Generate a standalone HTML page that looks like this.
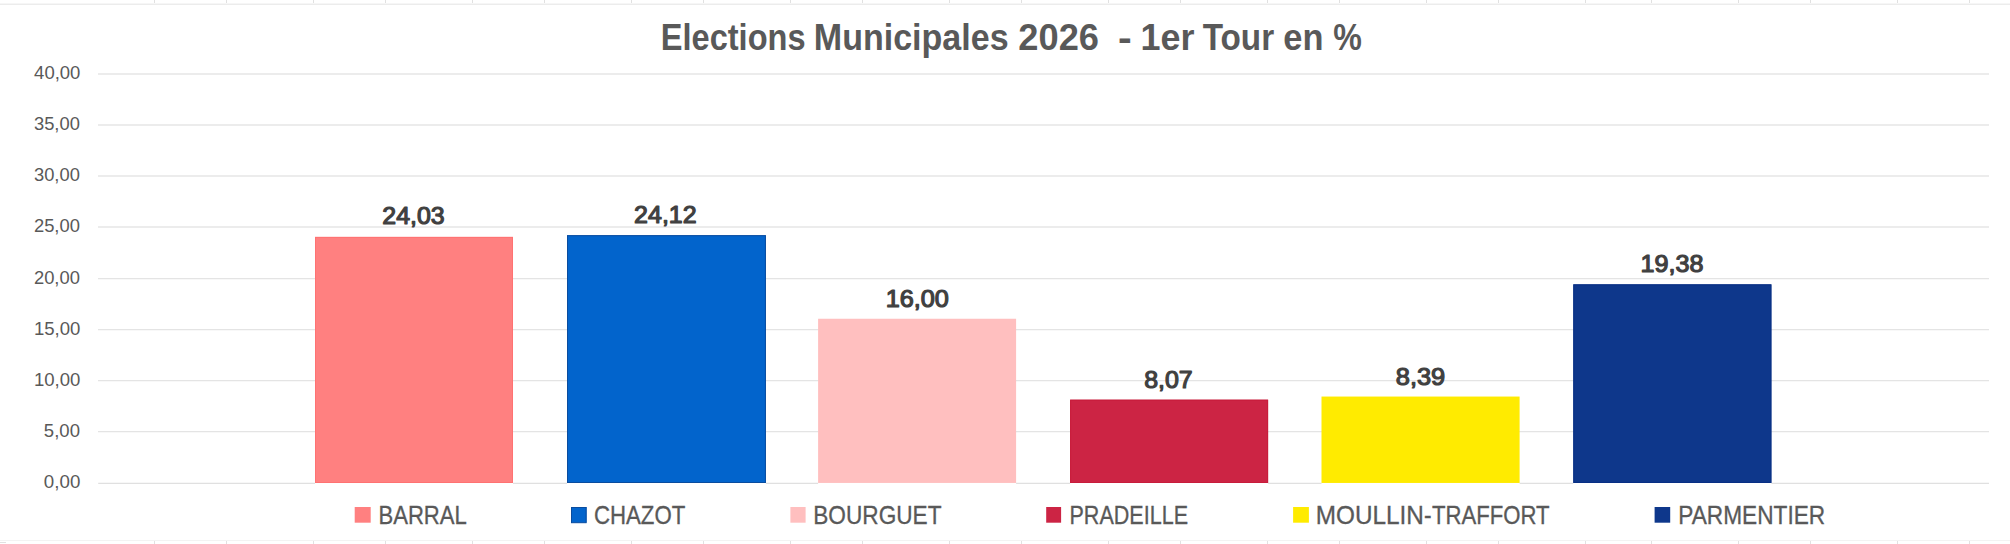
<!DOCTYPE html>
<html lang="fr"><head><meta charset="utf-8"><title>Elections Municipales 2026 - 1er Tour en %</title>
<style>
html,body{margin:0;padding:0;background:#fff;}
body{width:2010px;height:544px;overflow:hidden;position:relative;font-family:"Liberation Sans",sans-serif;}
svg{position:absolute;left:0;top:0;display:block;}
text{font-family:"Liberation Sans",sans-serif;}
.ax{font-size:18.6px;fill:#595959;}
.dl{font-size:24.8px;fill:#404040;stroke:#404040;stroke-width:1.2px;stroke-linejoin:round;}
.lg{font-size:25px;fill:#595959;stroke:#595959;stroke-width:0.3px;}
.ti{font-size:37.3px;font-weight:bold;fill:#595959;}
</style></head><body>
<svg width="2010" height="544" viewBox="0 0 2010 544">
<rect x="0" y="0" width="2010" height="544" fill="#ffffff"/>

<g stroke="#e1e1e1" stroke-width="1">
<line x1="154.5" y1="0" x2="154.5" y2="4"/>
<line x1="154.5" y1="541" x2="154.5" y2="544"/>
<line x1="226.5" y1="0" x2="226.5" y2="4"/>
<line x1="226.5" y1="541" x2="226.5" y2="544"/>
<line x1="313.5" y1="0" x2="313.5" y2="4"/>
<line x1="313.5" y1="541" x2="313.5" y2="544"/>
<line x1="385.5" y1="0" x2="385.5" y2="4"/>
<line x1="385.5" y1="541" x2="385.5" y2="544"/>
<line x1="472.5" y1="0" x2="472.5" y2="4"/>
<line x1="472.5" y1="541" x2="472.5" y2="544"/>
<line x1="544.5" y1="0" x2="544.5" y2="4"/>
<line x1="544.5" y1="541" x2="544.5" y2="544"/>
<line x1="631.5" y1="0" x2="631.5" y2="4"/>
<line x1="631.5" y1="541" x2="631.5" y2="544"/>
<line x1="703.5" y1="0" x2="703.5" y2="4"/>
<line x1="703.5" y1="541" x2="703.5" y2="544"/>
<line x1="790.5" y1="0" x2="790.5" y2="4"/>
<line x1="790.5" y1="541" x2="790.5" y2="544"/>
<line x1="862.5" y1="0" x2="862.5" y2="4"/>
<line x1="862.5" y1="541" x2="862.5" y2="544"/>
<line x1="949.5" y1="0" x2="949.5" y2="4"/>
<line x1="949.5" y1="541" x2="949.5" y2="544"/>
<line x1="1021.5" y1="0" x2="1021.5" y2="4"/>
<line x1="1021.5" y1="541" x2="1021.5" y2="544"/>
<line x1="1108.5" y1="0" x2="1108.5" y2="4"/>
<line x1="1108.5" y1="541" x2="1108.5" y2="544"/>
<line x1="1180.5" y1="0" x2="1180.5" y2="4"/>
<line x1="1180.5" y1="541" x2="1180.5" y2="544"/>
<line x1="1267.5" y1="0" x2="1267.5" y2="4"/>
<line x1="1267.5" y1="541" x2="1267.5" y2="544"/>
<line x1="1339.5" y1="0" x2="1339.5" y2="4"/>
<line x1="1339.5" y1="541" x2="1339.5" y2="544"/>
<line x1="1426.5" y1="0" x2="1426.5" y2="4"/>
<line x1="1426.5" y1="541" x2="1426.5" y2="544"/>
<line x1="1498.5" y1="0" x2="1498.5" y2="4"/>
<line x1="1498.5" y1="541" x2="1498.5" y2="544"/>
<line x1="1585.5" y1="0" x2="1585.5" y2="4"/>
<line x1="1585.5" y1="541" x2="1585.5" y2="544"/>
<line x1="1651.5" y1="0" x2="1651.5" y2="4"/>
<line x1="1651.5" y1="541" x2="1651.5" y2="544"/>
<line x1="1738.5" y1="0" x2="1738.5" y2="4"/>
<line x1="1738.5" y1="541" x2="1738.5" y2="544"/>
<line x1="1810.5" y1="0" x2="1810.5" y2="4"/>
<line x1="1810.5" y1="541" x2="1810.5" y2="544"/>
<line x1="1897.5" y1="0" x2="1897.5" y2="4"/>
<line x1="1897.5" y1="541" x2="1897.5" y2="544"/>
<line x1="1969.5" y1="0" x2="1969.5" y2="4"/>
<line x1="1969.5" y1="541" x2="1969.5" y2="544"/>
</g>
<rect x="0" y="3" width="2010" height="1" fill="#f6f6f6"/>
<rect x="0" y="4" width="2010" height="1" fill="#ececec"/>
<rect x="0" y="540" width="2010" height="1" fill="#f3f3f3"/>
<rect x="0" y="542" width="6" height="1" fill="#e1e1e1"/>
<rect x="98" y="73" width="1891" height="2" fill="#ececec"/>
<rect x="98" y="124" width="1891" height="2" fill="#ececec"/>
<rect x="98" y="175" width="1891" height="2" fill="#ececec"/>
<rect x="98" y="226" width="1891" height="2" fill="#ececec"/>
<rect x="98" y="278" width="1891" height="1" fill="#e4e4e4"/>
<rect x="98" y="279" width="1891" height="1" fill="#f8f8f8"/>
<rect x="98" y="329" width="1891" height="1" fill="#e4e4e4"/>
<rect x="98" y="330" width="1891" height="1" fill="#f8f8f8"/>
<rect x="98" y="380" width="1891" height="1" fill="#e4e4e4"/>
<rect x="98" y="381" width="1891" height="1" fill="#f8f8f8"/>
<rect x="98" y="431" width="1891" height="1" fill="#e4e4e4"/>
<rect x="98" y="432" width="1891" height="1" fill="#f8f8f8"/>
<line x1="98.2" y1="483.45" x2="315.0" y2="483.45" stroke="#e0e0e0" stroke-width="1.33"/>
<line x1="513.0" y1="483.45" x2="567.0" y2="483.45" stroke="#e0e0e0" stroke-width="1.33"/>
<line x1="765.9" y1="483.45" x2="818.1" y2="483.45" stroke="#e0e0e0" stroke-width="1.33"/>
<line x1="1016.1" y1="483.45" x2="1070.1" y2="483.45" stroke="#e0e0e0" stroke-width="1.33"/>
<line x1="1268.1" y1="483.45" x2="1321.5" y2="483.45" stroke="#e0e0e0" stroke-width="1.33"/>
<line x1="1519.6" y1="483.45" x2="1573.3" y2="483.45" stroke="#e0e0e0" stroke-width="1.33"/>
<line x1="1771.4" y1="483.45" x2="1989" y2="483.45" stroke="#e0e0e0" stroke-width="1.33"/>
<rect x="315.0" y="236.9" width="198.0" height="246.1" fill="#FF8080"/>
<rect x="315.5" y="237.4" width="197.0" height="245.1" fill="none" stroke="#FF7272" stroke-width="1"/>
<rect x="567.0" y="235.2" width="198.9" height="247.8" fill="#0264CC"/>
<rect x="567.5" y="235.7" width="197.9" height="246.8" fill="none" stroke="#0A4C9E" stroke-width="1"/>
<rect x="818.1" y="318.75" width="198.0" height="164.2" fill="#FFBFBF"/>
<rect x="1070.1" y="399.7" width="198.0" height="83.3" fill="#CC2444"/>
<rect x="1070.6" y="400.2" width="197.0" height="82.3" fill="none" stroke="#C81C3B" stroke-width="1"/>
<rect x="1321.5" y="396.55" width="198.1" height="86.4" fill="#FFEB00"/>
<rect x="1573.3" y="284.35" width="198.1" height="198.6" fill="#0E378B"/>
<rect x="1573.8" y="284.85" width="197.1" height="197.6" fill="none" stroke="#082F84" stroke-width="1"/>
<rect x="354.7" y="507" width="16.0" height="15.7" fill="#FF8080"/>
<rect x="571.0" y="507" width="15.6" height="15.7" fill="#0264CC"/>
<rect x="571.5" y="507.5" width="14.6" height="15.2" fill="none" stroke="#0A4C9E" stroke-width="1"/>
<rect x="790.4" y="507" width="15.2" height="15.7" fill="#FFBFBF"/>
<rect x="1046.2" y="507" width="14.9" height="15.7" fill="#CC2444"/>
<rect x="1293.1" y="507" width="15.8" height="15.7" fill="#FFEB00"/>
<rect x="1654.6" y="507" width="15.6" height="15.7" fill="#0E378B"/>
<text class="ti" y="50.10"><tspan id="ti0" x="660.81" textLength="144.73" lengthAdjust="spacingAndGlyphs">Elections</tspan> <tspan id="ti1" x="813.83" textLength="194.74" lengthAdjust="spacingAndGlyphs">Municipales</tspan> <tspan id="ti2" x="1018.33" textLength="80.67" lengthAdjust="spacingAndGlyphs">2026</tspan>  <tspan id="ti3" x="1118.12" textLength="13.75" lengthAdjust="spacingAndGlyphs">-</tspan> <tspan id="ti4" x="1140.53" textLength="53.90" lengthAdjust="spacingAndGlyphs">1er</tspan> <tspan id="ti5" x="1202.66" textLength="71.49" lengthAdjust="spacingAndGlyphs">Tour</tspan> <tspan id="ti6" x="1283.26" textLength="40.19" lengthAdjust="spacingAndGlyphs">en</tspan> <tspan id="ti7" x="1333.34" textLength="28.63" lengthAdjust="spacingAndGlyphs">%</tspan></text>
<text class="ax" y="79.20"><tspan id="ax40" x="34.12" textLength="46.30" lengthAdjust="spacingAndGlyphs">40,00</tspan></text>
<text class="ax" y="130.28"><tspan id="ax35" x="33.98" textLength="45.90" lengthAdjust="spacingAndGlyphs">35,00</tspan></text>
<text class="ax" y="181.35"><tspan id="ax30" x="33.98" textLength="45.90" lengthAdjust="spacingAndGlyphs">30,00</tspan></text>
<text class="ax" y="232.43"><tspan id="ax25" x="33.92" textLength="46.05" lengthAdjust="spacingAndGlyphs">25,00</tspan></text>
<text class="ax" y="283.50"><tspan id="ax20" x="33.92" textLength="46.05" lengthAdjust="spacingAndGlyphs">20,00</tspan></text>
<text class="ax" y="334.58"><tspan id="ax15" x="33.96" textLength="46.49" lengthAdjust="spacingAndGlyphs">15,00</tspan></text>
<text class="ax" y="385.65"><tspan id="ax10" x="33.96" textLength="46.49" lengthAdjust="spacingAndGlyphs">10,00</tspan></text>
<text class="ax" y="436.73"><tspan id="ax5" x="43.87" textLength="36.11" lengthAdjust="spacingAndGlyphs">5,00</tspan></text>
<text class="ax" y="487.80"><tspan id="ax0" x="43.87" textLength="36.44" lengthAdjust="spacingAndGlyphs">0,00</tspan></text>
<text class="dl" y="224.45"><tspan id="dl0" x="382.37" textLength="62.28" lengthAdjust="spacingAndGlyphs">24,03</tspan></text>
<text class="dl" y="223.45"><tspan id="dl1" x="634.12" textLength="62.53" lengthAdjust="spacingAndGlyphs">24,12</tspan></text>
<text class="dl" y="307.35"><tspan id="dl2" x="885.71" textLength="63.18" lengthAdjust="spacingAndGlyphs">16,00</tspan></text>
<text class="dl" y="388.35"><tspan id="dl3" x="1144.18" textLength="48.56" lengthAdjust="spacingAndGlyphs">8,07</tspan></text>
<text class="dl" y="385.45"><tspan id="dl4" x="1395.79" textLength="49.44" lengthAdjust="spacingAndGlyphs">8,39</tspan></text>
<text class="dl" y="272.45"><tspan id="dl5" x="1640.55" textLength="62.99" lengthAdjust="spacingAndGlyphs">19,38</tspan></text>
<text class="lg" y="523.50"><tspan id="lg0_0" x="378.42" textLength="88.40" lengthAdjust="spacingAndGlyphs">BARRAL</tspan></text>
<text class="lg" y="523.50"><tspan id="lg1_0" x="593.95" textLength="91.32" lengthAdjust="spacingAndGlyphs">CHAZOT</tspan></text>
<text class="lg" y="523.50"><tspan id="lg2_0" x="813.25" textLength="128.29" lengthAdjust="spacingAndGlyphs">BOURGUET</tspan></text>
<text class="lg" y="523.50"><tspan id="lg3_0" x="1069.47" textLength="118.53" lengthAdjust="spacingAndGlyphs">PRADEILLE</tspan></text>
<text class="lg" y="523.50"><tspan id="lg4_0" x="1315.85" textLength="108.07" lengthAdjust="spacingAndGlyphs">MOULLIN</tspan><tspan id="lg4_1" x="1423.98" textLength="7.58" lengthAdjust="spacingAndGlyphs">-</tspan><tspan id="lg4_2" x="1431.94" textLength="117.53" lengthAdjust="spacingAndGlyphs">TRAFFORT</tspan></text>
<text class="lg" y="523.50"><tspan id="lg5_0" x="1678.34" textLength="146.87" lengthAdjust="spacingAndGlyphs">PARMENTIER</tspan></text>
</svg></body></html>
